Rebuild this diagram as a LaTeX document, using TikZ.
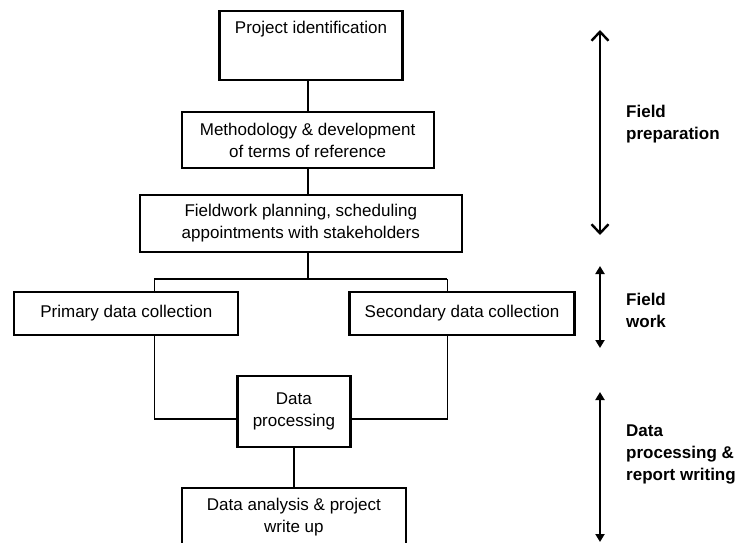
\documentclass[tikz,border=0pt]{standalone}
\usepackage{fontspec}
\setmainfont{Liberation Sans}
\usetikzlibrary{arrows.meta}

\begin{document}
\begin{tikzpicture}[x=1pt,y=-1pt,
  box/.style={rectangle,draw=black,line width=2.2pt,align=center,inner sep=0pt,font=\fontsize{17}{22}\selectfont},
  trunk/.style={line width=2.2pt},
  branch/.style={line width=1.2pt},
  span/.style={line width=2.4pt},
  phase/.style={anchor=west,align=left,inner sep=0pt,font=\fontsize{17}{22}\selectfont\bfseries}
]
  \useasboundingbox (0,0) rectangle (739,543);
  \clip (0,0) rectangle (739,543);
  % main column
  \node[box,minimum width=183pt,minimum height=69pt] (proj) at (311,45.5) {};
  \node[font=\fontsize{17}{22}\selectfont,inner sep=0pt] (projtxt) at (311,29) {Project identification};
  \node[box,minimum width=252pt,minimum height=56pt] (meth) at (307.6,140) {Methodology \& development\\of terms of reference};
  \node[box,minimum width=322pt,minimum height=57pt] (plan) at (300.8,223.5) {Fieldwork planning, scheduling\\appointments with stakeholders};
  \node[box,minimum width=224pt,minimum height=43pt] (prim) at (126.3,313.5) {Primary data collection};
  \node[box,minimum width=225pt,minimum height=43pt] (sec) at (462,313.5) {Secondary data collection};
  \node[box,minimum width=113pt,minimum height=71pt] (proc) at (293.9,411.5) {Data\\processing};
  \node[box,minimum width=224pt,minimum height=58pt] (anal) at (293.9,517) {Data analysis \& project\\write up};
  \coordinate (split) at (307.8,279);
  \coordinate (bl) at (154.4,279);
  \coordinate (br) at (447.1,279);
  % connectors
  \draw[trunk] (meth.north) -- (meth.north |- proj.south);
  \draw[trunk] (meth.south) -- (meth.south |- plan.north);
  \draw[trunk] (split |- plan.south) -- (split);
  \draw[branch] (bl) -- (br);
  \draw[branch] (bl) -- (bl |- prim.north);
  \draw[branch] (br) -- (br |- sec.north);
  \draw[branch] (bl |- prim.south) |- ([yshift=-7.5pt]proc.west);
  \draw[branch] (br |- sec.south) |- ([yshift=-7.5pt]proc.east);
  \draw[trunk] (proc.south) -- (proc.south |- anal.north);
  % phases
  \coordinate (preptop) at (600,30);
  \coordinate (prepbot) at (600,235);
  \coordinate (worktop) at (600,266);
  \coordinate (workbot) at (600,348);
  \coordinate (datatop) at (600,392);
  \coordinate (databot) at (600,542);
  \draw[span,{Straight Barb[length=9pt,width=17pt]}-{Straight Barb[length=9pt,width=17pt]}] (preptop) -- (prepbot);
  \draw[span,{Triangle[length=8pt,width=9pt]}-{Triangle[length=8pt,width=9pt]}] (worktop) -- (workbot);
  \draw[span,{Triangle[length=8pt,width=9pt]}-{Triangle[length=8pt,width=9pt]}] (datatop) -- (databot);
  \node[phase] (lblprep) at (626,124) {Field\\preparation};
  \node[phase] (lblwork) at (626,310) {Field\\work};
  \node[phase] (lbldata) at (626,454) {Data\\processing \&\\report writing};
\end{tikzpicture}
\end{document}
